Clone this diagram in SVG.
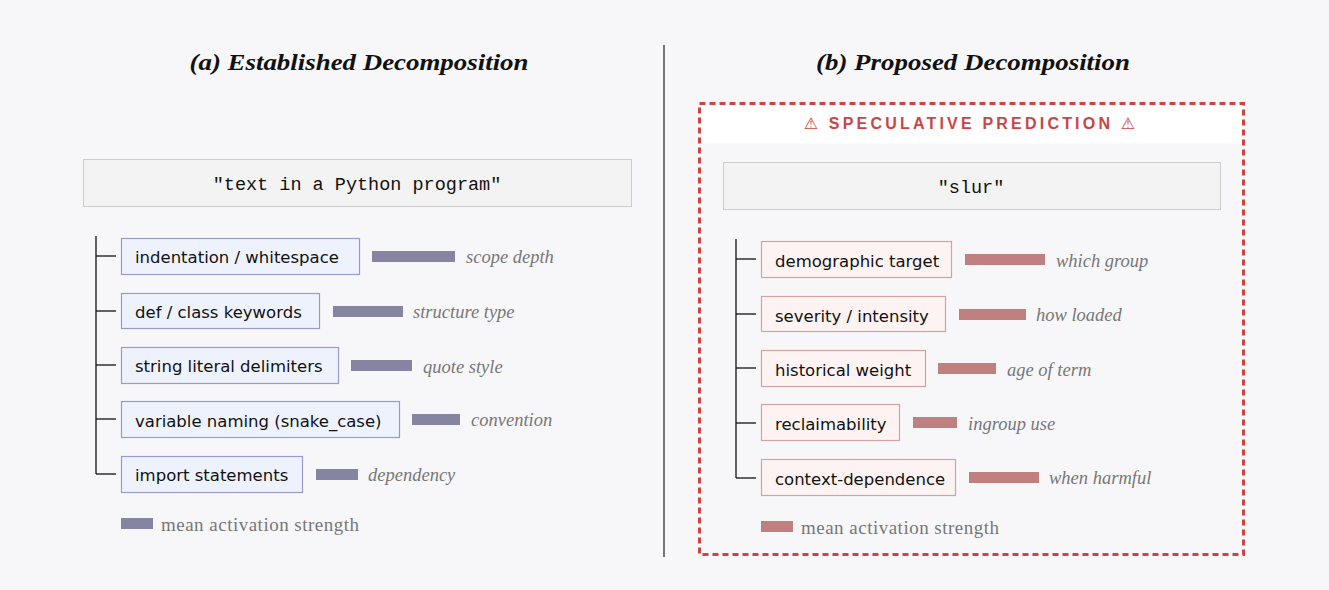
<svg xmlns="http://www.w3.org/2000/svg" width="1329" height="590" viewBox="0 0 1329 590">
<style>
.title{font-family:"Liberation Serif",serif;font-weight:bold;font-style:italic;font-size:23px;fill:#111;text-anchor:middle}
.root rect{fill:#f3f3f3;stroke:#cccccc;stroke-width:1}
.root text{font-family:"Liberation Mono",monospace;font-size:18.5px;fill:#111;text-anchor:middle}
.na rect.box{fill:#eef2fd;stroke:#9b9bcb;stroke-width:1.2}
.nb rect.box{fill:#fdf3f2;stroke:#d3a3a3;stroke-width:1.2}
.nt{font-family:"DejaVu Sans",sans-serif;font-size:16.5px;fill:#111}
.bara{fill:#8585a1}
.barb{fill:#c08080}
.lab{font-family:"Liberation Serif",serif;font-style:italic;font-size:18.5px;fill:#777}
.leg{font-family:"Liberation Serif",serif;font-size:19px;fill:#777}
.conn line{stroke:#111;stroke-width:1.3}
</style>
<rect width="1329" height="590" fill="#f7f7f9"/>
<line x1="664" y1="45" x2="664" y2="557" stroke="#222" stroke-width="1.2"/>
<text class="title" x="359" y="70" textLength="339" lengthAdjust="spacingAndGlyphs">(a) Established Decomposition</text>
<text class="title" x="973" y="70" textLength="314" lengthAdjust="spacingAndGlyphs">(b) Proposed Decomposition</text>

<g id="speculative-frame">
<rect x="699.5" y="103.5" width="544" height="40" fill="#ffffff"/>
<rect x="699.5" y="103.5" width="544" height="451" fill="none" stroke="#cf4343" stroke-width="3" stroke-dasharray="6,4"/>
<text x="971" y="129" text-anchor="middle" font-family="'Liberation Sans','DejaVu Sans',sans-serif" font-weight="bold" font-size="16px" letter-spacing="3.2" fill="#cc4444">⚠ SPECULATIVE PREDICTION ⚠</text>
</g>

<g id="connectors" class="conn">
<line x1="96" y1="236" x2="96" y2="474"/>
<line x1="96" y1="256" x2="116" y2="256"/>
<line x1="96" y1="311" x2="116" y2="311"/>
<line x1="96" y1="365" x2="116" y2="365"/>
<line x1="96" y1="419" x2="116" y2="419"/>
<line x1="96" y1="474" x2="116" y2="474"/>
<line x1="736" y1="239" x2="736" y2="478"/>
<line x1="736" y1="259" x2="756" y2="259"/>
<line x1="736" y1="314" x2="756" y2="314"/>
<line x1="736" y1="368" x2="756" y2="368"/>
<line x1="736" y1="423" x2="756" y2="423"/>
<line x1="736" y1="478" x2="756" y2="478"/>
</g>

<g id="root-a" class="root">
<rect x="83.5" y="159.5" width="548" height="47"/>
<text x="357" y="190">"text in a Python program"</text>
</g>
<g id="a1" class="na">
<rect class="box" x="121.5" y="238.5" width="238" height="36"/>
<text class="nt" x="135" y="263">indentation / whitespace</text>
<rect class="bara" x="372" y="251" width="83" height="11"/>
<text class="lab" x="466" y="263">scope depth</text>
</g>
<g id="a2" class="na">
<rect class="box" x="121.5" y="293.5" width="198" height="35"/>
<text class="nt" x="135" y="318">def / class keywords</text>
<rect class="bara" x="333" y="306" width="70" height="11"/>
<text class="lab" x="413" y="318">structure type</text>
</g>
<g id="a3" class="na">
<rect class="box" x="121.5" y="347.5" width="217" height="36"/>
<text class="nt" x="135" y="372">string literal delimiters</text>
<rect class="bara" x="351" y="360" width="61" height="11"/>
<text class="lab" x="423" y="373">quote style</text>
</g>
<g id="a4" class="na">
<rect class="box" x="121.5" y="401.5" width="278" height="36"/>
<text class="nt" x="135" y="427">variable naming (snake_case)</text>
<rect class="bara" x="412" y="414" width="48" height="11"/>
<text class="lab" x="471" y="426">convention</text>
</g>
<g id="a5" class="na">
<rect class="box" x="121.5" y="456.5" width="181" height="36"/>
<text class="nt" x="135" y="481">import statements</text>
<rect class="bara" x="316" y="469" width="42" height="11"/>
<text class="lab" x="368" y="481">dependency</text>
</g>
<g id="legend-a">
<rect class="bara" x="121" y="518" width="32" height="11"/>
<text class="leg" x="161" y="531" textLength="198">mean activation strength</text>
</g>

<g id="root-b" class="root">
<rect x="723.5" y="162.5" width="497" height="47"/>
<text x="971" y="193">"slur"</text>
</g>
<g id="b1" class="nb">
<rect class="box" x="761.5" y="241.5" width="190" height="36"/>
<text class="nt" x="775" y="267">demographic target</text>
<rect class="barb" x="965" y="254" width="80" height="11"/>
<text class="lab" x="1056" y="267">which group</text>
</g>
<g id="b2" class="nb">
<rect class="box" x="761.5" y="296.5" width="184" height="35"/>
<text class="nt" x="775" y="322">severity / intensity</text>
<rect class="barb" x="959" y="309" width="67" height="11"/>
<text class="lab" x="1036" y="321">how loaded</text>
</g>
<g id="b3" class="nb">
<rect class="box" x="761.5" y="350.5" width="164" height="36"/>
<text class="nt" x="775" y="376">historical weight</text>
<rect class="barb" x="938" y="363" width="58" height="11"/>
<text class="lab" x="1007" y="376">age of term</text>
</g>
<g id="b4" class="nb">
<rect class="box" x="761.5" y="404.5" width="138" height="36"/>
<text class="nt" x="775" y="430">reclaimability</text>
<rect class="barb" x="913" y="417" width="44" height="11"/>
<text class="lab" x="968" y="430">ingroup use</text>
</g>
<g id="b5" class="nb">
<rect class="box" x="761.5" y="459.5" width="194" height="36"/>
<text class="nt" x="775" y="485">context-dependence</text>
<rect class="barb" x="969" y="472" width="70" height="11"/>
<text class="lab" x="1049" y="484">when harmful</text>
</g>
<g id="legend-b">
<rect class="barb" x="761" y="521" width="32" height="11"/>
<text class="leg" x="801" y="534" textLength="198">mean activation strength</text>
</g>
</svg>
